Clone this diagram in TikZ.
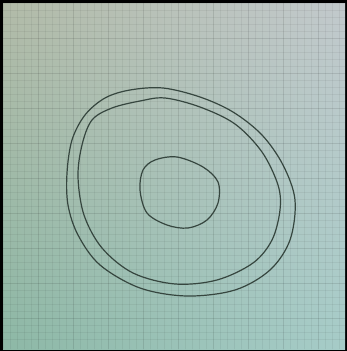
\documentclass[tikz,border=0pt]{standalone}
\usepackage{tikz}
\usetikzlibrary{calc,shadings}

\definecolor{papierHG}{HTML}{B2BBA8}
\definecolor{papierHD}{HTML}{C2C9CC}
\definecolor{papierBG}{HTML}{8DB8A6}
\definecolor{papierBD}{HTML}{A6CCC8}
\definecolor{crayon}{HTML}{36463F}

\begin{document}
\begin{tikzpicture}[x=1pt, y=-1pt, line cap=round, line join=round]

%% Cadre noir et papier.

\fill[black] (0,0) rectangle (347,351);
\shade[upper left=papierHG, upper right=papierHD,
       lower left=papierBG, lower right=papierBD] (3,3) rectangle (345,349);

%% Quadrillage.

\foreach \k in {0,...,48} {
  \draw[black, opacity=.05, line width=.4pt] (3+7*\k,3) -- (3+7*\k,349);
  \draw[black, opacity=.05, line width=.4pt] (3,3+7*\k) -- (345,3+7*\k);
}
\foreach \k in {1,...,9} {
  \draw[black, opacity=.05, line width=.8pt] (3+35*\k,3) -- (3+35*\k,349);
  \draw[black, opacity=.05, line width=.8pt] (3,3+35*\k) -- (345,3+35*\k);
}

%% Anneau exterieur.

\draw[crayon, line width=1.2pt] plot[smooth cycle, tension=.55] coordinates {
  (67,173) (72,140) (85,115) (105,98) (130,90) (163,88) (200,97)
  (233,112) (262,135) (283,165) (295,200) (290,240) (270,270)
  (235,290) (187,296) (140,288) (100,265) (78,235) (68,205) };

\draw[crayon, line width=1.2pt] plot[smooth cycle, tension=.55] coordinates {
  (78,177) (82,145) (92,120) (112,108) (140,101) (165,98) (200,107)
  (235,124) (262,152) (278,185) (280,210) (272,240) (253,263)
  (217,280) (175,284) (133,273) (102,248) (84,215) };

%% Noyau.

\draw[crayon, line width=1.2pt] plot[smooth cycle, tension=.55] coordinates {
  (155,160) (177,157) (203,167) (218,182) (218,203) (207,220)
  (188,228) (167,225) (147,213) (140,190) (143,170) };

\end{tikzpicture}
\end{document}
